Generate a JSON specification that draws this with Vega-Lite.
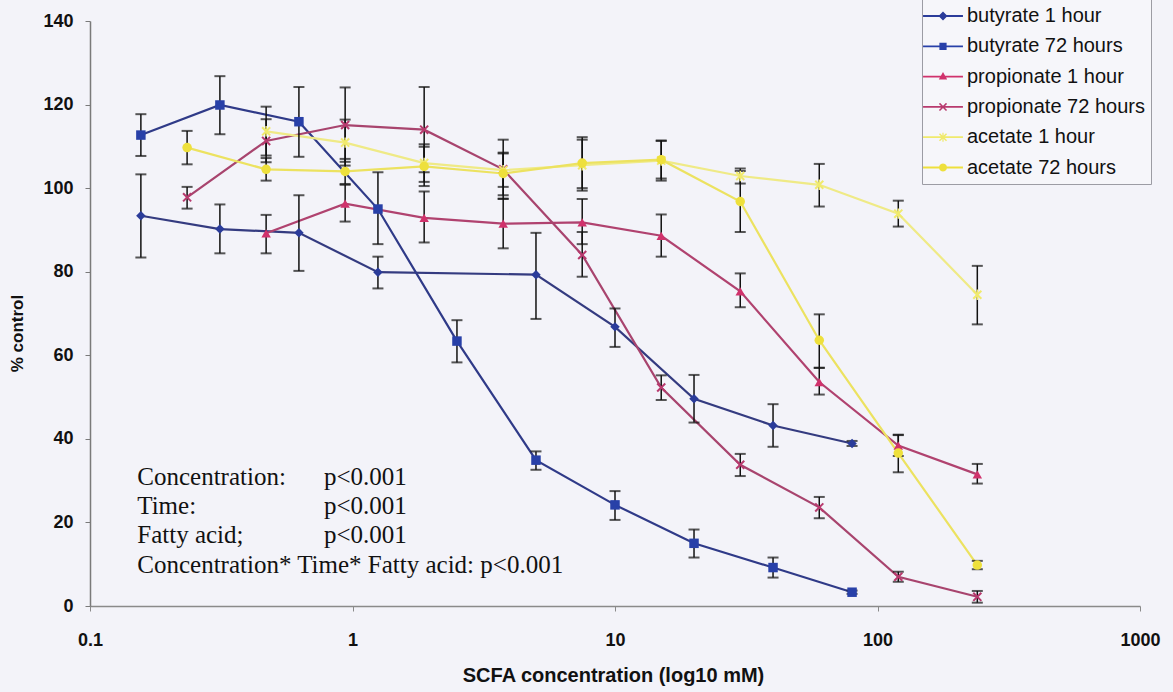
{
  "$schema": "https://vega.github.io/schema/vega-lite/v6.json",
  "width": 1050,
  "height": 585,
  "autosize": {"type": "none"},
  "padding": {"left": 90, "top": 21, "right": 33, "bottom": 86},
  "background": "#F3F3F9",
  "config": {"view": {"stroke": null}, "font": "Liberation Sans"},
  "datasets": {
    "curves": [
      {"series": "butyrate 1 hour", "conc": 0.15625, "pct": 93.4, "lo": 83.4, "hi": 103.3},
      {"series": "butyrate 1 hour", "conc": 0.3125, "pct": 90.2, "lo": 84.4, "hi": 96.1},
      {"series": "butyrate 1 hour", "conc": 0.625, "pct": 89.3, "lo": 80.2, "hi": 98.3},
      {"series": "butyrate 1 hour", "conc": 1.25, "pct": 79.9, "lo": 76.0, "hi": 83.6},
      {"series": "butyrate 1 hour", "conc": 5, "pct": 79.3, "lo": 68.7, "hi": 89.3},
      {"series": "butyrate 1 hour", "conc": 10, "pct": 66.8, "lo": 62.0, "hi": 71.2},
      {"series": "butyrate 1 hour", "conc": 20, "pct": 49.6, "lo": 43.9, "hi": 55.3},
      {"series": "butyrate 1 hour", "conc": 40, "pct": 43.2, "lo": 38.1, "hi": 48.3},
      {"series": "butyrate 1 hour", "conc": 80, "pct": 38.9, "lo": 38.3, "hi": 39.5},

      {"series": "butyrate 72 hours", "conc": 0.15625, "pct": 112.7, "lo": 107.7, "hi": 117.7},
      {"series": "butyrate 72 hours", "conc": 0.3125, "pct": 119.9, "lo": 112.9, "hi": 126.8},
      {"series": "butyrate 72 hours", "conc": 0.625, "pct": 115.9, "lo": 107.5, "hi": 124.2},
      {"series": "butyrate 72 hours", "conc": 1.25, "pct": 95.0, "lo": 86.6, "hi": 103.8},
      {"series": "butyrate 72 hours", "conc": 2.5, "pct": 63.4, "lo": 58.3, "hi": 68.4},
      {"series": "butyrate 72 hours", "conc": 5, "pct": 34.9, "lo": 32.6, "hi": 37.0},
      {"series": "butyrate 72 hours", "conc": 10, "pct": 24.2, "lo": 20.6, "hi": 27.5},
      {"series": "butyrate 72 hours", "conc": 20, "pct": 15.0, "lo": 11.6, "hi": 18.3},
      {"series": "butyrate 72 hours", "conc": 40, "pct": 9.2, "lo": 6.8, "hi": 11.6},
      {"series": "butyrate 72 hours", "conc": 80, "pct": 3.3, "lo": 2.9, "hi": 3.7},

      {"series": "propionate 1 hour", "conc": 0.46875, "pct": 89.2, "lo": 84.4, "hi": 93.6},
      {"series": "propionate 1 hour", "conc": 0.9375, "pct": 96.3, "lo": 92.0, "hi": 100.8},
      {"series": "propionate 1 hour", "conc": 1.875, "pct": 92.9, "lo": 87.0, "hi": 99.2},
      {"series": "propionate 1 hour", "conc": 3.75, "pct": 91.5, "lo": 85.6, "hi": 97.5},
      {"series": "propionate 1 hour", "conc": 7.5, "pct": 91.8, "lo": 86.6, "hi": 97.4},
      {"series": "propionate 1 hour", "conc": 15, "pct": 88.6, "lo": 83.6, "hi": 93.7},
      {"series": "propionate 1 hour", "conc": 30, "pct": 75.3, "lo": 71.5, "hi": 79.6},
      {"series": "propionate 1 hour", "conc": 60, "pct": 53.6, "lo": 50.6, "hi": 57.0},
      {"series": "propionate 1 hour", "conc": 120, "pct": 38.4, "lo": 35.9, "hi": 40.9},
      {"series": "propionate 1 hour", "conc": 240, "pct": 31.5, "lo": 29.3, "hi": 34.0},

      {"series": "propionate 72 hours", "conc": 0.234375, "pct": 97.8, "lo": 95.1, "hi": 100.3},
      {"series": "propionate 72 hours", "conc": 0.46875, "pct": 111.3, "lo": 106.2, "hi": 116.5},
      {"series": "propionate 72 hours", "conc": 0.9375, "pct": 115.1, "lo": 106.3, "hi": 124.1},
      {"series": "propionate 72 hours", "conc": 1.875, "pct": 114.0, "lo": 103.8, "hi": 124.2},
      {"series": "propionate 72 hours", "conc": 3.75, "pct": 104.5, "lo": 97.4, "hi": 111.6},
      {"series": "propionate 72 hours", "conc": 7.5, "pct": 84.0, "lo": 78.8, "hi": 89.5},
      {"series": "propionate 72 hours", "conc": 15, "pct": 52.3, "lo": 49.3, "hi": 55.2},
      {"series": "propionate 72 hours", "conc": 30, "pct": 33.8, "lo": 31.1, "hi": 36.4},
      {"series": "propionate 72 hours", "conc": 60, "pct": 23.6, "lo": 21.0, "hi": 26.1},
      {"series": "propionate 72 hours", "conc": 120, "pct": 7.0, "lo": 5.8, "hi": 8.2},
      {"series": "propionate 72 hours", "conc": 240, "pct": 2.2, "lo": 0.8, "hi": 3.6},

      {"series": "acetate 1 hour", "conc": 0.46875, "pct": 113.6, "lo": 107.8, "hi": 119.5},
      {"series": "acetate 1 hour", "conc": 0.9375, "pct": 110.9, "lo": 105.4, "hi": 116.4},
      {"series": "acetate 1 hour", "conc": 1.875, "pct": 106.0, "lo": 101.5, "hi": 110.5},
      {"series": "acetate 1 hour", "conc": 3.75, "pct": 104.3, "lo": 100.3, "hi": 108.3},
      {"series": "acetate 1 hour", "conc": 7.5, "pct": 105.5, "lo": 99.4, "hi": 111.6},
      {"series": "acetate 1 hour", "conc": 15, "pct": 106.6, "lo": 101.8, "hi": 111.4},
      {"series": "acetate 1 hour", "conc": 30, "pct": 102.9, "lo": 101.1, "hi": 104.7},
      {"series": "acetate 1 hour", "conc": 60, "pct": 100.8, "lo": 95.6, "hi": 105.8},
      {"series": "acetate 1 hour", "conc": 120, "pct": 93.9, "lo": 90.8, "hi": 97.0},
      {"series": "acetate 1 hour", "conc": 240, "pct": 74.5, "lo": 67.4, "hi": 81.4},

      {"series": "acetate 72 hours", "conc": 0.234375, "pct": 109.7, "lo": 105.7, "hi": 113.7},
      {"series": "acetate 72 hours", "conc": 0.46875, "pct": 104.5, "lo": 101.8, "hi": 107.2},
      {"series": "acetate 72 hours", "conc": 0.9375, "pct": 104.0, "lo": 101.0, "hi": 107.0},
      {"series": "acetate 72 hours", "conc": 1.875, "pct": 105.2, "lo": 100.5, "hi": 109.9},
      {"series": "acetate 72 hours", "conc": 3.75, "pct": 103.5, "lo": 98.3, "hi": 108.5},
      {"series": "acetate 72 hours", "conc": 7.5, "pct": 106.0, "lo": 100.0, "hi": 112.2},
      {"series": "acetate 72 hours", "conc": 15, "pct": 106.8, "lo": 102.3, "hi": 111.3},
      {"series": "acetate 72 hours", "conc": 30, "pct": 96.8, "lo": 89.5, "hi": 104.1},
      {"series": "acetate 72 hours", "conc": 60, "pct": 63.6, "lo": 57.0, "hi": 69.8},
      {"series": "acetate 72 hours", "conc": 120, "pct": 36.6, "lo": 32.0, "hi": 41.0},
      {"series": "acetate 72 hours", "conc": 240, "pct": 9.8, "lo": 8.8, "hi": 10.8}
    ],
    "notes": [
      {"conc": 0.1514, "pct": 29, "note": "Concentration:"},
      {"conc": 0.7786, "pct": 29, "note": "p<0.001"},
      {"conc": 0.1514, "pct": 22, "note": "Time:"},
      {"conc": 0.7786, "pct": 22, "note": "p<0.001"},
      {"conc": 0.1514, "pct": 15, "note": "Fatty acid;"},
      {"conc": 0.7786, "pct": 15, "note": "p<0.001"},
      {"conc": 0.1514, "pct": 8, "note": "Concentration* Time* Fatty acid: p<0.001"}
    ]
  },
  "data": {"name": "curves"},
  "encoding": {
    "x": {
      "field": "conc",
      "type": "quantitative",
      "scale": {"type": "log", "domain": [0.1, 1000]},
      "axis": {
        "title": "SCFA concentration (log10 mM)",
        "values": [0.1, 1, 10, 100, 1000],
        "labelExpr": "format(datum.value, '~g')",
        "grid": false,
        "domainColor": "#8A8A8A",
        "domainWidth": 1.5,
        "tickColor": "#8A8A8A",
        "tickSize": 5,
        "labelFont": "Liberation Sans",
        "labelFontSize": 18,
        "labelFontWeight": "bold",
        "labelColor": "#111111",
        "labelPadding": 20,
        "labelFlush": false,
        "titleFont": "Liberation Sans",
        "titleFontSize": 20,
        "titleFontWeight": "bold",
        "titleColor": "#111111",
        "titleX": 523,
        "titleY": 69,
        "titleBaseline": "middle"
      }
    },
    "y": {
      "field": "pct",
      "type": "quantitative",
      "scale": {"domain": [0, 140]},
      "axis": {
        "title": "% control",
        "values": [0, 20, 40, 60, 80, 100, 120, 140],
        "grid": false,
        "domainColor": "#7A7A7A",
        "domainWidth": 1.5,
        "tickColor": "#7A7A7A",
        "tickSize": 5,
        "labelFont": "Liberation Sans",
        "labelFontSize": 18,
        "labelFontWeight": "bold",
        "labelColor": "#111111",
        "labelPadding": 12,
        "titleFont": "Liberation Sans",
        "titleFontSize": 17,
        "titleFontWeight": "bold",
        "titleColor": "#111111",
        "titleX": -73,
        "titleY": 312,
        "titleBaseline": "middle"
      }
    }
  },
  "layer": [
    {
      "mark": {"type": "line", "strokeWidth": 2.2},
      "encoding": {
        "stroke": {
          "field": "series",
          "type": "nominal",
          "scale": {
            "domain": ["butyrate 1 hour", "butyrate 72 hours", "propionate 1 hour", "propionate 72 hours", "acetate 1 hour", "acetate 72 hours"],
            "range": ["#343B80", "#2F3A88", "#B0426F", "#A8446E", "#EFEA86", "#ECE260"]
          },
          "legend": null
        },
        "order": {"field": "conc", "type": "quantitative"}
      }
    },
    {
      "mark": {"type": "rule", "color": "#111111", "strokeWidth": 1.5},
      "encoding": {
        "y": {"field": "lo", "type": "quantitative"},
        "y2": {"field": "hi"}
      }
    },
    {
      "mark": {"type": "tick", "orient": "horizontal", "color": "#111111", "size": 11, "thickness": 2},
      "encoding": {"y": {"field": "hi", "type": "quantitative"}}
    },
    {
      "mark": {"type": "tick", "orient": "horizontal", "color": "#111111", "size": 11, "thickness": 2},
      "encoding": {"y": {"field": "lo", "type": "quantitative"}}
    },
    {
      "mark": {"type": "point", "filled": true, "opacity": 1, "size": 90},
      "encoding": {
        "color": {
          "field": "series",
          "type": "nominal",
          "scale": {
            "domain": ["butyrate 1 hour", "butyrate 72 hours", "propionate 1 hour", "propionate 72 hours", "acetate 1 hour", "acetate 72 hours"],
            "range": ["#2B3C9A", "#2840A8", "#D0326C", "#B83A6E", "#F0EA6C", "#EEE03C"]
          },
          "legend": null
        },
        "shape": {
          "field": "series",
          "type": "nominal",
          "scale": {
            "domain": ["butyrate 1 hour", "butyrate 72 hours", "propionate 1 hour", "propionate 72 hours", "acetate 1 hour", "acetate 72 hours"],
            "range": [
              "diamond",
              "square",
              "triangle-up",
              "M-1,-0.7L-0.7,-1L1,0.7L0.7,1Z M0.7,-1L1,-0.7L-0.7,1L-1,0.7Z",
              "M-1,-0.7L-0.7,-1L1,0.7L0.7,1Z M0.7,-1L1,-0.7L-0.7,1L-1,0.7Z M-0.16,-1.1H0.16V1.1H-0.16Z",
              "circle"
            ]
          },
          "legend": null
        }
      }
    },
    {
      "mark": {"type": "point", "filled": true, "opacity": 0, "size": 900},
      "encoding": {
        "color": {
          "field": "series",
          "type": "nominal",
          "legend": {
            "title": null,
            "orient": "none",
            "legendX": 832,
            "legendY": -26,
            "padding": 6,
            "fillColor": "#F6F6FA",
            "strokeColor": "#9C9CA4",
            "labelFont": "Liberation Sans",
            "labelFontSize": 20,
            "labelColor": "#111111",
            "labelOffset": 9,
            "labelLimit": 400,
            "symbolSize": 900,
            "symbolOpacity": 1,
            "symbolStrokeWidth": 0,
            "rowPadding": 5.3
          }
        },
        "shape": {
          "field": "series",
          "type": "nominal",
          "scale": {
            "domain": ["butyrate 1 hour", "butyrate 72 hours", "propionate 1 hour", "propionate 72 hours", "acetate 1 hour", "acetate 72 hours"],
            "range": [
              "M-1.33,-0.06H1.33V0.06H-1.33Z M0,-0.3L0.3,0L0,0.3L-0.3,0Z",
              "M-1.33,-0.06H1.33V0.06H-1.33Z M-0.24,-0.24H0.24V0.24H-0.24Z",
              "M-1.33,-0.06H1.33V0.06H-1.33Z M0,-0.3L0.28,0.2L-0.28,0.2Z",
              "M-1.33,-0.06H1.33V0.06H-1.33Z M-0.27,-0.2L-0.2,-0.27L0.27,0.2L0.2,0.27Z M0.2,-0.27L0.27,-0.2L-0.2,0.27L-0.27,0.2Z",
              "M-1.33,-0.06H1.33V0.06H-1.33Z M-0.27,-0.2L-0.2,-0.27L0.27,0.2L0.2,0.27Z M0.2,-0.27L0.27,-0.2L-0.2,0.27L-0.27,0.2Z M-0.04,-0.3H0.04V0.3H-0.04Z",
              "M-1.33,-0.06H1.33V0.06H-1.33Z M0.27,0L0.234,0.135L0.135,0.234L0,0.27L-0.135,0.234L-0.234,0.135L-0.27,0L-0.234,-0.135L-0.135,-0.234L0,-0.27L0.135,-0.234L0.234,-0.135Z"
            ]
          },
          "legend": {
            "title": null,
            "orient": "none",
            "legendX": 832,
            "legendY": -26,
            "padding": 6,
            "fillColor": "#F6F6FA",
            "strokeColor": "#9C9CA4",
            "labelFont": "Liberation Sans",
            "labelFontSize": 20,
            "labelColor": "#111111",
            "labelOffset": 9,
            "labelLimit": 400,
            "symbolSize": 900,
            "symbolOpacity": 1,
            "symbolStrokeWidth": 0,
            "rowPadding": 5.3
          }
        }
      }
    },
    {
      "data": {"name": "notes"},
      "mark": {"type": "text", "font": "Liberation Serif", "fontSize": 25, "align": "left", "baseline": "alphabetic", "color": "#111111"},
      "encoding": {
        "text": {"field": "note", "type": "nominal"}
      }
    }
  ],
  "resolve": {
    "scale": {"shape": "independent"},
    "legend": {"shape": "independent", "color": "independent"}
  }
}
